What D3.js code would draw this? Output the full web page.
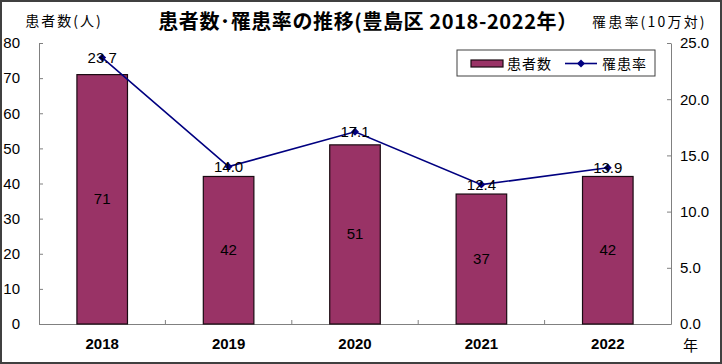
<!DOCTYPE html>
<html><head><meta charset="utf-8">
<script src="https://cdn.jsdelivr.net/npm/d3@7"></script>
<style>
html,body{margin:0;padding:0;background:#fff;}
svg{display:block;}
</style></head>
<body>
<svg id="chart" width="722" height="364"></svg>
<script>
const years = ["2018", "2019", "2020", "2021", "2022"];
const patients = [71, 42, 51, 37, 42];
const rates = [23.7, 14.0, 17.1, 12.4, 13.9];
const leftTicks = [0, 10, 20, 30, 40, 50, 60, 70, 80];
const rightTicks = [0, 5, 10, 15, 20, 25];
const titleText = "患者数･罹患率の推移(豊島区 2018-2022年）";
const leftTitle = "患者数(人)";
const rightTitle = "罹患率(10万対)";
const seriesNames = ["患者数", "罹患率"];
const xUnit = "年";

const jp = "'Noto Sans CJK JP', sans-serif";
const num = "'Liberation Sans', Arial, sans-serif";
const svg = d3.select("#chart");
const L = 39, R = 671, T = 43, B = 324;

svg.append("rect").attr("x", 1).attr("y", 1).attr("width", 720).attr("height", 362)
  .attr("fill", "#fff").attr("stroke", "#404040").attr("stroke-width", 2);

const x = d3.scaleBand().domain(years).range([L, R]).paddingInner(0.6).paddingOuter(0.3);
const yL = d3.scaleLinear().domain([0, 80]).range([B, T]);
const yR = d3.scaleLinear().domain([0, 25]).range([B, T]);

// left axis
const gl = svg.append("g").attr("transform", `translate(${L},0)`)
  .call(d3.axisLeft(yL).tickValues(leftTicks).tickSize(-4).tickSizeOuter(0).tickPadding(19));
gl.selectAll("text").attr("font-family", num).attr("font-size", 15).attr("fill", "#000");
// right axis
const gr = svg.append("g").attr("transform", `translate(${R},0)`)
  .call(d3.axisRight(yR).tickValues(rightTicks).tickSize(-4).tickSizeOuter(0).tickPadding(9).tickFormat(d3.format(".1f")));
gr.selectAll("text").attr("font-family", num).attr("font-size", 15).attr("fill", "#000");
// bottom axis labels
const gb = svg.append("g").attr("transform", `translate(0,${B})`)
  .call(d3.axisBottom(x).tickSize(0).tickPadding(14));
gb.selectAll("text").attr("font-family", num).attr("font-size", 15).attr("font-weight", "bold").attr("fill", "#000");
[gl, gr, gb].forEach(g => { g.selectAll("path,line").attr("stroke", "#808080"); g.select(".domain").attr("stroke", "#808080"); });
// category separator ticks
const bounds = years.slice(1).map(d => x(d) - x.step() * x.paddingInner() / 2);
svg.append("g").selectAll("line").data(bounds).join("line")
  .attr("x1", d => d).attr("x2", d => d).attr("y1", B).attr("y2", B - 4)
  .attr("stroke", "#808080");

// bars
svg.append("g").selectAll("rect").data(years).join("rect")
  .attr("x", d => x(d)).attr("width", x.bandwidth())
  .attr("y", (d, i) => yL(patients[i])).attr("height", (d, i) => B - yL(patients[i]))
  .attr("fill", "#993366").attr("stroke", "#1a0a12").attr("stroke-width", 1.2);
svg.append("g").selectAll("text").data(years).join("text")
  .attr("x", d => x(d) + x.bandwidth() / 2)
  .attr("y", (d, i) => (yL(patients[i]) + B) / 2 + 5)
  .attr("text-anchor", "middle").attr("font-family", num).attr("font-size", 15)
  .text((d, i) => patients[i]);

// line
const cx = d => x(d) + x.bandwidth() / 2;
svg.append("path").datum(years)
  .attr("d", d3.line().x(d => cx(d)).y((d, i) => yR(rates[i])))
  .attr("fill", "none").attr("stroke", "#000080").attr("stroke-width", 1.6);
svg.append("g").selectAll("path").data(years).join("path")
  .attr("transform", (d, i) => `translate(${cx(d)},${yR(rates[i])})`)
  .attr("d", d3.symbol(d3.symbolDiamond2, 40)).attr("fill", "#000080");
svg.append("g").selectAll("text").data(years).join("text")
  .attr("x", d => cx(d)).attr("y", (d, i) => yR(rates[i]) + 5)
  .attr("text-anchor", "middle").attr("font-family", num).attr("font-size", 15)
  .text((d, i) => rates[i].toFixed(1));

// titles
svg.append("text").attr("x", 368).attr("y", 29).attr("text-anchor", "middle")
  .attr("font-family", jp).attr("font-size", 20).attr("font-weight", "bold")
  .attr("letter-spacing", 0.6).text(titleText);
svg.append("text").attr("x", 64).attr("y", 26).attr("text-anchor", "middle")
  .attr("font-family", jp).attr("font-size", 14)
  .attr("letter-spacing", 2).text(leftTitle);
svg.append("text").attr("x", 592).attr("y", 27).attr("font-family", jp)
  .attr("font-size", 14).attr("letter-spacing", 2.2).text(rightTitle);
svg.append("text").attr("x", 683).attr("y", 351).attr("font-family", jp).attr("font-size", 15).text(xUnit);

// legend
const lg = svg.append("g");
lg.append("rect").attr("x", 457).attr("y", 50).attr("width", 198).attr("height", 26)
  .attr("fill", "#fff").attr("stroke", "#404040").attr("stroke-width", 1);
lg.append("rect").attr("x", 471).attr("y", 60).attr("width", 32).attr("height", 7)
  .attr("fill", "#993366").attr("stroke", "#1a0a12").attr("stroke-width", 1.2);
lg.append("text").attr("x", 507).attr("y", 69).attr("font-family", jp).attr("font-size", 14)
  .attr("letter-spacing", 1).text(seriesNames[0]);
lg.append("line").attr("x1", 565).attr("x2", 597).attr("y1", 63.5).attr("y2", 63.5)
  .attr("stroke", "#000080").attr("stroke-width", 1.6);
lg.append("path").attr("transform", "translate(581,63.5)").attr("d", d3.symbol(d3.symbolDiamond2, 40)).attr("fill", "#000080");
lg.append("text").attr("x", 602).attr("y", 69).attr("font-family", jp).attr("font-size", 14)
  .attr("letter-spacing", 1).text(seriesNames[1]);
</script>
</body></html>
